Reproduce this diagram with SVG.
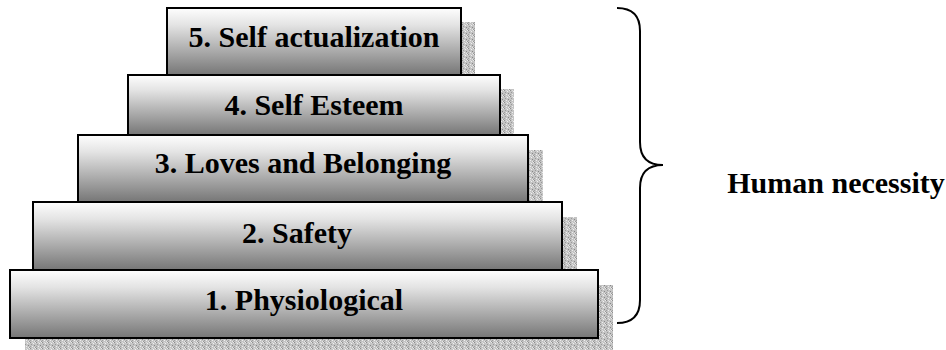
<svg xmlns="http://www.w3.org/2000/svg" width="946" height="350" viewBox="0 0 946 350">
<style>
.box{fill:url(#grad);stroke:#000;stroke-width:2}
.sh{fill:url(#stip)}
.lbl{font-family:"Liberation Serif","Times New Roman",serif;font-weight:bold;font-size:30px;fill:#000;text-anchor:middle}
.brace{fill:none;stroke:#000;stroke-width:2}
</style>
<defs>
<linearGradient id="grad" x1="0" y1="0" x2="0" y2="1">
<stop offset="0" stop-color="#fefefe"/>
<stop offset="0.25" stop-color="#e4e4e4"/>
<stop offset="1" stop-color="#767676"/>
</linearGradient>
<pattern id="stip" width="6" height="6" patternUnits="userSpaceOnUse">
<rect width="6" height="6" fill="#c4c4c4"/>
<rect x="0" y="0" width="1" height="1" fill="#8e8e8e"/>
<rect x="3" y="1" width="1" height="1" fill="#f0f0f0"/>
<rect x="1" y="2" width="1" height="1" fill="#9a9a9a"/>
<rect x="4" y="3" width="1" height="1" fill="#888"/>
<rect x="2" y="4" width="1" height="1" fill="#eee"/>
<rect x="5" y="5" width="1" height="1" fill="#999"/>
<rect x="5" y="0" width="1" height="1" fill="#e8e8e8"/>
<rect x="0" y="4" width="1" height="1" fill="#a0a0a0"/>
<rect x="2" y="0" width="1" height="1" fill="#ddd"/>
<rect x="4" y="5" width="1" height="1" fill="#e6e6e6"/>
</pattern>
</defs>
<g id="level5">
<rect class="sh" x="181" y="22" width="294" height="67"/>
<rect class="box" x="167" y="8" width="294" height="67"/>
<text class="lbl" x="314" y="47">5. Self actualization</text>
</g>
<g id="level4">
<rect class="sh" x="142" y="89" width="372" height="60"/>
<rect class="box" x="128" y="75" width="372" height="60"/>
<text class="lbl" x="314" y="115">4. Self Esteem</text>
</g>
<g id="level3">
<rect class="sh" x="93" y="150" width="450" height="67"/>
<rect class="box" x="78" y="135" width="450" height="67"/>
<text class="lbl" x="303" y="173">3. Loves and Belonging</text>
</g>
<g id="level2">
<rect class="sh" x="48" y="217" width="529" height="68"/>
<rect class="box" x="33" y="202" width="529" height="68"/>
<text class="lbl" x="297" y="243">2. Safety</text>
</g>
<g id="level1">
<rect class="sh" x="25" y="285" width="588" height="67"/>
<rect class="box" x="10" y="270" width="588" height="68"/>
<text class="lbl" x="304" y="310">1. Physiological</text>
</g>
<g id="connectors">
<path class="brace" d="M617,8 Q640,8 640,31 L640,142 Q640,165 663,165 Q640,165 640,188 L640,300 Q640,323 617,323"/>
</g>
<g id="label-human">
<text class="lbl" x="836" y="193">Human necessity</text>
</g>
</svg>
